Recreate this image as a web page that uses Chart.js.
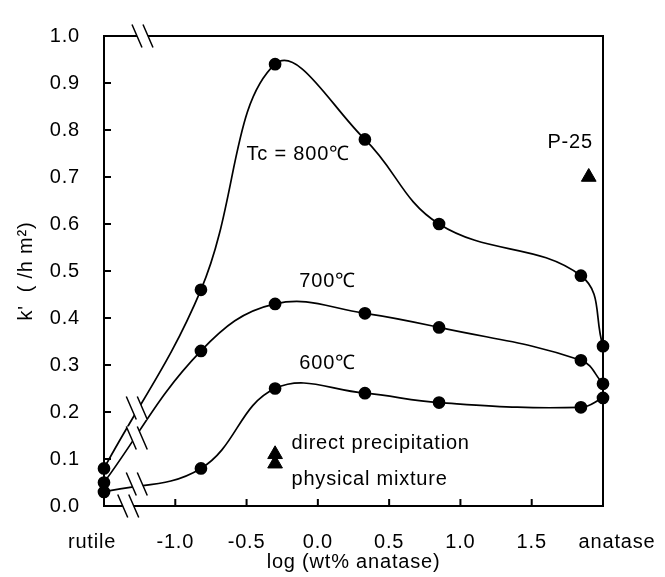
<!DOCTYPE html>
<html lang="en">
<head>
<meta charset="UTF-8">
<title>k' vs log (wt% anatase)</title>
<script src="https://cdn.jsdelivr.net/npm/chart.js"></script>
<style>
    html, body { margin: 0; padding: 0; background: #fff; }
    #wrap { width: 665px; height: 577px; }
</style>
</head>
<body>
<div id="wrap"><canvas id="chart" width="665" height="577"></canvas></div>
<script>
    // log(wt% anatase); pure rutile sits on the left axis, pure anatase (100 %) at 2.0
    const logAnatase = [-1.5, -0.82, -0.30, 0.33, 0.85, 1.845, 2.0];
    const k800 = [0.08, 0.46, 0.94, 0.78, 0.60, 0.49, 0.34];
    const k700 = [0.05, 0.33, 0.43, 0.41, 0.38, 0.31, 0.26];
    const k600 = [0.03, 0.08, 0.25, 0.24, 0.22, 0.21, 0.23];

    // reference samples drawn as triangles
    const refNames = ['P-25', 'direct precipitation', 'physical mixture'];
    const refX = [1.90, -0.30, -0.30];
    const refK = [0.70, 0.11, 0.09];

    const xTicks = [-1.0, -0.5, 0.0, 0.5, 1.0, 1.5];
    const yTicks = [0.0, 0.1, 0.2, 0.3, 0.4, 0.5, 0.6, 0.7, 0.8, 0.9, 1.0];
    const xEndLabels = ['rutile', 'anatase'];

    // text placed in data units
    const notes = [
        { text: 'Tc = 800℃', x: -0.50, y: 0.747 },
        { text: '700℃', x: -0.13, y: 0.478 },
        { text: '600℃', x: -0.13, y: 0.304 },
        { text: refNames[0], x: 1.61, y: 0.773 },
        { text: refNames[1], x: -0.185, y: 0.133 },
        { text: refNames[2], x: -0.185, y: 0.057 }
    ];

    const FONT = { family: "'Liberation Sans', Arial, sans-serif", size: 20 };
    const SPACING = '0.8px';
    Chart.defaults.font.family = FONT.family;
    Chart.defaults.color = '#000';

    function curve(values) {
        return {
            data: logAnatase.map((x, i) => ({ x: x, y: values[i] })),
            showLine: true,
            tension: 0.4,
            borderColor: '#000',
            borderWidth: 1.7,
            pointRadius: 5.5,
            pointBackgroundColor: '#000',
            pointBorderColor: '#000',
            clip: false
        };
    }

    // k value on the straight run between the first two samples
    function lerpFirst(values, x) {
        const t = (x - logAnatase[0]) / (logAnatase[1] - logAnatase[0]);
        return values[0] + t * (values[1] - values[0]);
    }

    function breakMark(ctx, cx, cy) {
        const dx = 5, dy = 11.5, gap = 5.5;
        ctx.fillStyle = '#fff';
        ctx.beginPath();
        ctx.moveTo(cx - gap - dx, cy - dy);
        ctx.lineTo(cx + gap - dx, cy - dy);
        ctx.lineTo(cx + gap + dx, cy + dy);
        ctx.lineTo(cx - gap + dx, cy + dy);
        ctx.closePath();
        ctx.fill();
        ctx.beginPath();
        ctx.moveTo(cx - gap - dx, cy - dy); ctx.lineTo(cx - gap + dx, cy + dy);
        ctx.moveTo(cx + gap - dx, cy - dy); ctx.lineTo(cx + gap + dx, cy + dy);
        ctx.stroke();
    }

    const spacingPlugin = {
        id: 'spacing',
        beforeLayout(chart) { chart.ctx.letterSpacing = SPACING; },
        beforeDraw(chart) { chart.ctx.letterSpacing = SPACING; }
    };

    const framePlugin = {
        id: 'frame',
        afterDraw(chart) {
            const ctx = chart.ctx;
            const a = chart.chartArea;
            const xs = chart.scales.x, ys = chart.scales.y;
            ctx.save();
            ctx.letterSpacing = SPACING;
            ctx.strokeStyle = '#000';
            ctx.lineWidth = 2;
            ctx.strokeRect(a.left, a.top, a.right - a.left, a.bottom - a.top);

            // inward tick marks
            ctx.beginPath();
            xTicks.forEach(v => {
                const px = xs.getPixelForValue(v);
                ctx.moveTo(px, a.bottom); ctx.lineTo(px, a.bottom - 7);
            });
            yTicks.forEach(v => {
                const py = ys.getPixelForValue(v);
                ctx.moveTo(a.left, py); ctx.lineTo(a.left + 7, py);
            });
            ctx.stroke();

            // axis breaks between rutile and the first mixture
            ctx.lineWidth = 1.5;
            breakMark(ctx, xs.getPixelForValue(-1.23), a.top);
            breakMark(ctx, xs.getPixelForValue(-1.33), a.bottom);
            [k800, k700, k600].forEach(vals => {
                breakMark(ctx, xs.getPixelForValue(-1.27), ys.getPixelForValue(lerpFirst(vals, -1.27)));
            });

            ctx.fillStyle = '#000';
            ctx.font = FONT.size + 'px ' + FONT.family;
            ctx.textBaseline = 'middle';

            // end labels on the x axis
            const ly = a.bottom + 36;
            ctx.textAlign = 'center';
            ctx.fillText(xEndLabels[0], xs.getPixelForValue(-1.5) - 12, ly);
            ctx.fillText(xEndLabels[1], xs.getPixelForValue(2.0) + 14, ly);

            ctx.textAlign = 'left';
            notes.forEach(n => {
                ctx.fillText(n.text, xs.getPixelForValue(n.x), ys.getPixelForValue(n.y));
            });
            ctx.restore();
        }
    };

    const chart = new Chart(document.getElementById('chart'), {
        type: 'scatter',
        data: {
            datasets: [
                curve(k800),
                curve(k700),
                curve(k600),
                {
                    data: refX.map((x, i) => ({ x: x, y: refK[i] })),
                    showLine: false,
                    pointStyle: 'triangle',
                    pointRadius: 8.5,
                    pointBackgroundColor: '#000',
                    pointBorderColor: '#000',
                    clip: false
                }
            ]
        },
        options: {
            responsive: false,
            animation: false,
            layout: { padding: { top: 16, right: 62, left: 0, bottom: 0 } },
            plugins: { legend: { display: false }, tooltip: { enabled: false } },
            scales: {
                x: {
                    type: 'linear',
                    min: -1.5,
                    max: 2.0,
                    grid: { display: false, drawTicks: false },
                    border: { display: false },
                    afterBuildTicks: s => { s.ticks = xTicks.map(v => ({ value: v })); },
                    afterFit: s => { s.height = 71; },
                    ticks: { padding: 24, font: FONT, callback: v => Number(v).toFixed(1) },
                    title: { display: true, text: 'log (wt% anatase)', font: FONT, padding: { top: 0, bottom: 3 } }
                },
                y: {
                    min: 0,
                    max: 1.0,
                    grid: { display: false, drawTicks: false },
                    border: { display: false },
                    afterBuildTicks: s => { s.ticks = yTicks.map(v => ({ value: v })); },
                    afterFit: s => { s.width = 104; },
                    ticks: { padding: 24, font: FONT, callback: v => Number(v).toFixed(1) },
                    title: { display: true, text: "k'  ( /h m²)", font: FONT, padding: { top: 14, bottom: 0 } }
                }
            }
        },
        plugins: [spacingPlugin, framePlugin]
    });
</script>
</body>
</html>
